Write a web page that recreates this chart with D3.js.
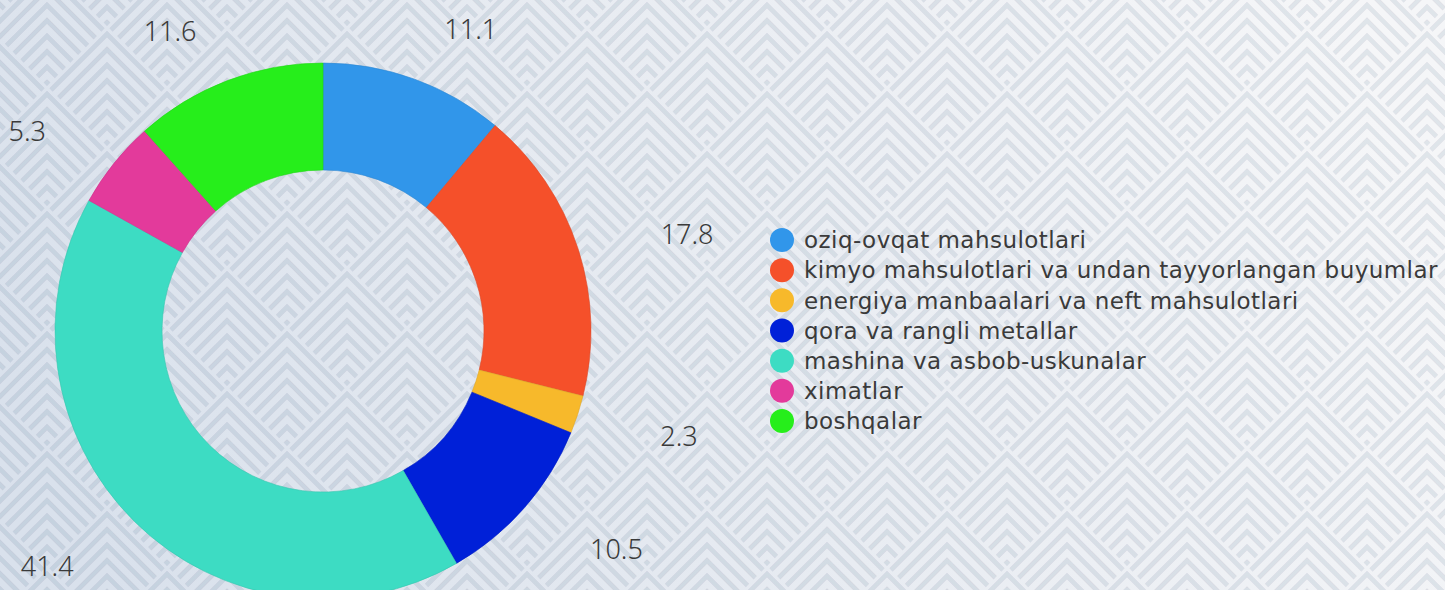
<!DOCTYPE html>
<html>
<head>
<meta charset="utf-8">
<script src="https://cdn.jsdelivr.net/npm/d3@7"></script>
<style>
  html, body { margin: 0; padding: 0; overflow: hidden; }
  #chart { width: 1445px; height: 590px; }
  text { fill: #3a3a3a; }
</style>
</head>
<body>
<div id="chart"></div>
<script>
// Chart data
const categories = [
    'oziq-ovqat mahsulotlari',
    'kimyo mahsulotlari va undan tayyorlangan buyumlar',
    'energiya manbaalari va neft mahsulotlari',
    'qora va rangli metallar',
    'mashina va asbob-uskunalar',
    'ximatlar',
    'boshqalar'
];
const values = [11.1, 17.8, 2.3, 10.5, 41.4, 5.3, 11.6];
const colors = ['#3196ea', '#f5502a', '#f7b92b', '#0020d8', '#3ddcc3', '#e33a9b', '#26ee1b'];

const width = 1445;
const height = 590;

const svg = d3.select('#chart').append('svg')
    .attr('width', width)
    .attr('height', height);

const defs = svg.append('defs');

// Background gradient
const grad = defs.append('linearGradient')
    .attr('id', 'bgGrad')
    .attr('x1', '0%').attr('y1', '60%')
    .attr('x2', '100%').attr('y2', '40%');
grad.append('stop').attr('offset', '0%').attr('stop-color', '#d9e1ec');
grad.append('stop').attr('offset', '50%').attr('stop-color', '#e8ecf2');
grad.append('stop').attr('offset', '100%').attr('stop-color', '#f5f6f8');

// Diamond chevron pattern
const tile = 120;
const step = 15.5;
const pattern = defs.append('pattern')
    .attr('id', 'chevrons')
    .attr('patternUnits', 'userSpaceOnUse')
    .attr('x', 47).attr('y', 30)
    .attr('width', tile).attr('height', tile);

defs.append('filter')
    .attr('id', 'soft')
    .append('feGaussianBlur')
    .attr('stdDeviation', 0.6);

const chev = pattern.append('g').attr('filter', 'url(#soft)');
const peaks = [[60, 0], [0, 60], [120, 60], [0, -60], [120, -60]];
peaks.forEach(([x0, y0]) => {
    for (let k = 0; k * step < tile - 8; k++) {
        const top = y0 + k * step + 4;
        const t = (tile - (top - y0)) / 2 - 2;
        chev.append('path')
            .attr('d', `M${x0 - t},${top + t} L${x0},${top} L${x0 + t},${top + t}`)
            .attr('fill', 'none')
            .attr('stroke', 'rgba(35,45,75,0.09)')
            .attr('stroke-width', 4.6);
    }
});

svg.append('rect')
    .attr('width', width).attr('height', height)
    .attr('fill', 'url(#bgGrad)');
svg.append('rect')
    .attr('width', width).attr('height', height)
    .attr('fill', 'url(#chevrons)');

// Donut
const cx = 323, cy = 331;
const outerR = 268, innerR = 161;

const pie = d3.pie().sort(null).value(d => d);
const arcs = pie(values);

const arc = d3.arc().innerRadius(innerR).outerRadius(outerR);

const g = svg.append('g').attr('transform', `translate(${cx},${cy})`);

g.selectAll('path')
    .data(arcs)
    .enter()
    .append('path')
    .attr('d', arc)
    .attr('fill', (d, i) => colors[i])
    .attr('stroke', (d, i) => d3.color(colors[i]).darker(0.3))
    .attr('stroke-width', 0.6);

// Value labels on an ellipse around the donut
const labelRx = 355, labelRy = 325;
g.selectAll('text.value')
    .data(arcs)
    .enter()
    .append('text')
    .attr('class', 'value')
    .attr('x', d => labelRx * Math.sin((d.startAngle + d.endAngle) / 2))
    .attr('y', d => -labelRy * Math.cos((d.startAngle + d.endAngle) / 2))
    .attr('dy', '0.5em')
    .attr('text-anchor', d => ((d.startAngle + d.endAngle) / 2) < Math.PI ? 'start' : 'end')
    .style('font-family', '"Noto Sans", sans-serif')
    .style('font-size', '27px')
    .style('font-weight', 300)
    .text(d => d.value);

// Legend
const legend = svg.append('g').attr('transform', 'translate(782,240)');
const rowY = d3.scalePoint().domain(d3.range(categories.length)).range([0, 181]);

const rows = legend.selectAll('g')
    .data(categories)
    .enter()
    .append('g')
    .attr('transform', (d, i) => `translate(0,${rowY(i)})`);

rows.append('circle')
    .attr('r', 12)
    .attr('fill', (d, i) => colors[i]);

rows.append('text')
    .attr('x', 22)
    .attr('dy', '0.36em')
    .style('font-family', '"DejaVu Sans", sans-serif')
    .style('font-size', '23px')
    .style('letter-spacing', '0.45px')
    .text(d => d);
</script>
</body>
</html>
